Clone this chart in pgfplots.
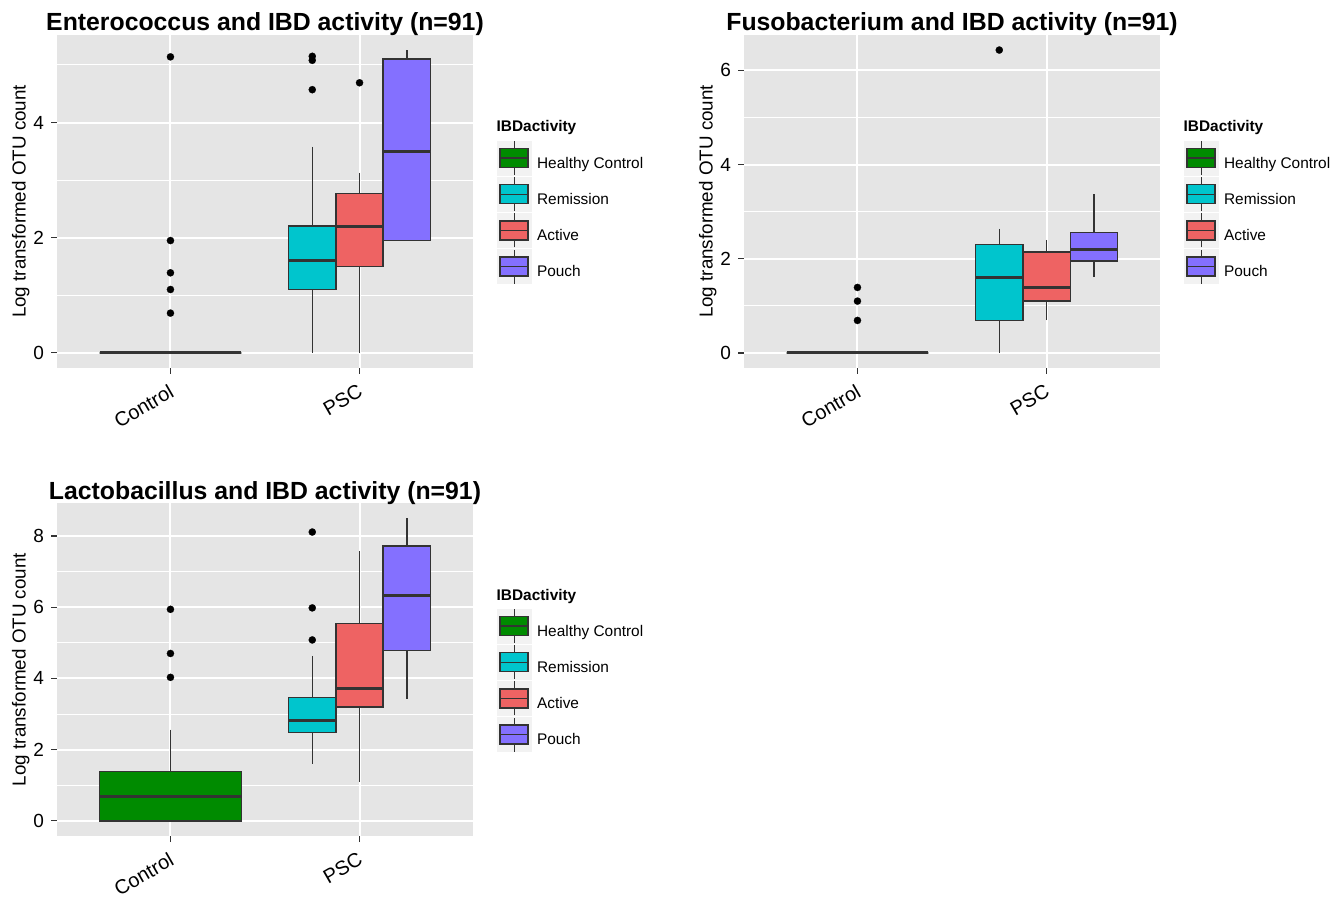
\documentclass[border=0pt]{standalone}
\usepackage{fontspec}
\setmainfont{Liberation Sans}
\usepackage{pgfplots}
\pgfplotsset{compat=1.18}
\usepgfplotslibrary{statistics}

\definecolor{gray90}{HTML}{E5E5E5}
\definecolor{gray95}{HTML}{F2F2F2}
\definecolor{gray20}{HTML}{333333}
\definecolor{hc}{HTML}{008B00}
\definecolor{rem}{HTML}{00C5CD}
\definecolor{act}{HTML}{EE6363}
\definecolor{pch}{HTML}{8470FF}

\pgfplotsset{
  bx/.style={forget plot, fill=#1, draw=gray20, line width=0.7pt,
    mark=*, mark size=1.8pt, mark options={fill=black, draw=black, line width=0.1pt},
    boxplot/draw direction=y,
    boxplot/whisker extend=0,
    boxplot/every box/.style={draw=gray20, line width=0.7pt},
    boxplot/every whisker/.style={draw=gray20, line width=0.7pt},
    boxplot/every median/.style={draw=gray20, line width=1.5pt}},
  boxkey/.style={legend image code/.code={
      \fill[gray95] (0pt,-5.5pt) rectangle (17pt,11.5pt);
      \draw[gray20, line width=0.6pt] (8.5pt,-5.5pt) -- (8.5pt,11.5pt);
      \filldraw[fill=#1, draw=gray20, line width=0.7pt] (1.5pt,-1.75pt) rectangle (15.5pt,7.75pt);
      \draw[gray20, line width=0.6pt] (1.5pt,3pt) -- (15.5pt,3pt);
      \path[draw=none, fill=none] (0pt,0pt) -- (20pt,0pt);}},
  gg/.style={
    anchor=south west, scale only axis, width=208pt, height=166.5pt,
    clip=false,
    xmin=0.4, xmax=2.6, xtick={1,2}, xticklabels={Control,PSC},
    axis background/.style={fill=gray90},
    axis line style={draw=none},
    tick pos=left, tick align=outside,
    major tick length=3pt, minor tick length=0pt,
    tick style={gray20, line width=0.6pt},
    xmajorgrids, ymajorgrids, yminorgrids,
    major grid style={white, line width=1pt},
    minor grid style={white, line width=0.5pt},
    /pgf/number format/assume math mode=true,
    yticklabel style={font=\fontsize{9.5}{11}\selectfont},
    xticklabel style={font=\fontsize{10}{11}\selectfont, rotate=30, anchor=north east},
    ylabel={Log transformed OTU count},
    ylabel style={font=\fontsize{9.4}{11}\selectfont, at={(axis description cs:-0.0757,0.5)}, anchor=base},
    title style={font=\bfseries\fontsize{12.4}{14}\selectfont, at={(axis description cs:0.5,1)}, anchor=base, yshift=-4pt},
    legend style={at={(1.056,0.6847)}, anchor=north west, draw=none, fill=none,
      inner sep=0pt, row sep=0.5pt, font=\fontsize{7.7}{9}\selectfont, nodes={inner sep=0pt}},
    legend cell align=left,
  },
}

\newcommand{\legendkeys}{%
  \addlegendimage{boxkey=hc}\addlegendentry{Healthy Control}
  \addlegendimage{boxkey=rem}\addlegendentry{Remission}
  \addlegendimage{boxkey=act}\addlegendentry{Active}
  \addlegendimage{boxkey=pch}\addlegendentry{Pouch}
  \node[anchor=base west, inner sep=0pt, font=\bfseries\fontsize{7.7}{9}\selectfont]
    at (rel axis cs:1.056,0.7087) {IBDactivity};
}

\begin{document}
\begin{tikzpicture}
\useasboundingbox (0pt,0pt) rectangle (668pt,449pt);

% Enterococcus
\begin{axis}[gg, at={(28.5pt,265pt)}, ymin=-0.263, ymax=5.52,
  ytick={0,2,4}, minor ytick={1,3,5},
  title={Enterococcus and IBD activity (n=91)}]
\addplot[bx=hc, boxplot prepared={draw position=1, box extend=0.75,
  lower whisker=0, lower quartile=0, median=0, upper quartile=0, upper whisker=0}]
  table[row sep=\\, y index=0] {y\\ 5.14\\ 1.95\\ 1.39\\ 1.10\\ 0.69\\};
\addplot[bx=rem, boxplot prepared={draw position=1.75, box extend=0.25,
  lower whisker=0, lower quartile=1.10, median=1.61, upper quartile=2.20, upper whisker=3.58}]
  table[row sep=\\, y index=0] {y\\ 5.15\\ 5.08\\ 4.57\\};
\addplot[bx=act, boxplot prepared={draw position=2, box extend=0.25,
  lower whisker=0, lower quartile=1.50, median=2.20, upper quartile=2.77, upper whisker=3.13}]
  table[row sep=\\, y index=0] {y\\ 4.69\\};
\addplot[bx=pch, boxplot prepared={draw position=2.25, box extend=0.25,
  lower whisker=1.95, lower quartile=1.95, median=3.50, upper quartile=5.10, upper whisker=5.26}]
  coordinates {};
\legendkeys
\end{axis}

% Fusobacterium
\begin{axis}[gg, at={(372pt,265pt)}, ymin=-0.32, ymax=6.75,
  ytick={0,2,4,6}, minor ytick={1,3,5},
  title={Fusobacterium and IBD activity (n=91)}]
\addplot[bx=hc, boxplot prepared={draw position=1, box extend=0.75,
  lower whisker=0, lower quartile=0, median=0, upper quartile=0, upper whisker=0}]
  table[row sep=\\, y index=0] {y\\ 1.39\\ 1.10\\ 0.69\\};
\addplot[bx=rem, boxplot prepared={draw position=1.75, box extend=0.25,
  lower whisker=0, lower quartile=0.69, median=1.61, upper quartile=2.30, upper whisker=2.64}]
  table[row sep=\\, y index=0] {y\\ 6.43\\};
\addplot[bx=act, boxplot prepared={draw position=2, box extend=0.25,
  lower whisker=0.69, lower quartile=1.10, median=1.39, upper quartile=2.14, upper whisker=2.40}]
  coordinates {};
\addplot[bx=pch, boxplot prepared={draw position=2.25, box extend=0.25,
  lower whisker=1.61, lower quartile=1.95, median=2.20, upper quartile=2.56, upper whisker=3.37}]
  coordinates {};
\legendkeys
\end{axis}

% Lactobacillus
\begin{axis}[gg, at={(28.5pt,31pt)}, ymin=-0.425, ymax=8.925,
  ytick={0,2,4,6,8}, minor ytick={1,3,5,7},
  title={Lactobacillus and IBD activity (n=91)}]
\addplot[bx=hc, boxplot prepared={draw position=1, box extend=0.75,
  lower whisker=0, lower quartile=0, median=0.69, upper quartile=1.39, upper whisker=2.56}]
  table[row sep=\\, y index=0] {y\\ 5.94\\ 4.70\\ 4.03\\};
\addplot[bx=rem, boxplot prepared={draw position=1.75, box extend=0.25,
  lower whisker=1.61, lower quartile=2.48, median=2.83, upper quartile=3.47, upper whisker=4.63}]
  table[row sep=\\, y index=0] {y\\ 8.11\\ 5.98\\ 5.08\\};
\addplot[bx=act, boxplot prepared={draw position=2, box extend=0.25,
  lower whisker=1.10, lower quartile=3.20, median=3.73, upper quartile=5.55, upper whisker=7.57}]
  coordinates {};
\addplot[bx=pch, boxplot prepared={draw position=2.25, box extend=0.25,
  lower whisker=3.43, lower quartile=4.78, median=6.34, upper quartile=7.72, upper whisker=8.50}]
  coordinates {};
\legendkeys
\end{axis}
\end{tikzpicture}
\end{document}
